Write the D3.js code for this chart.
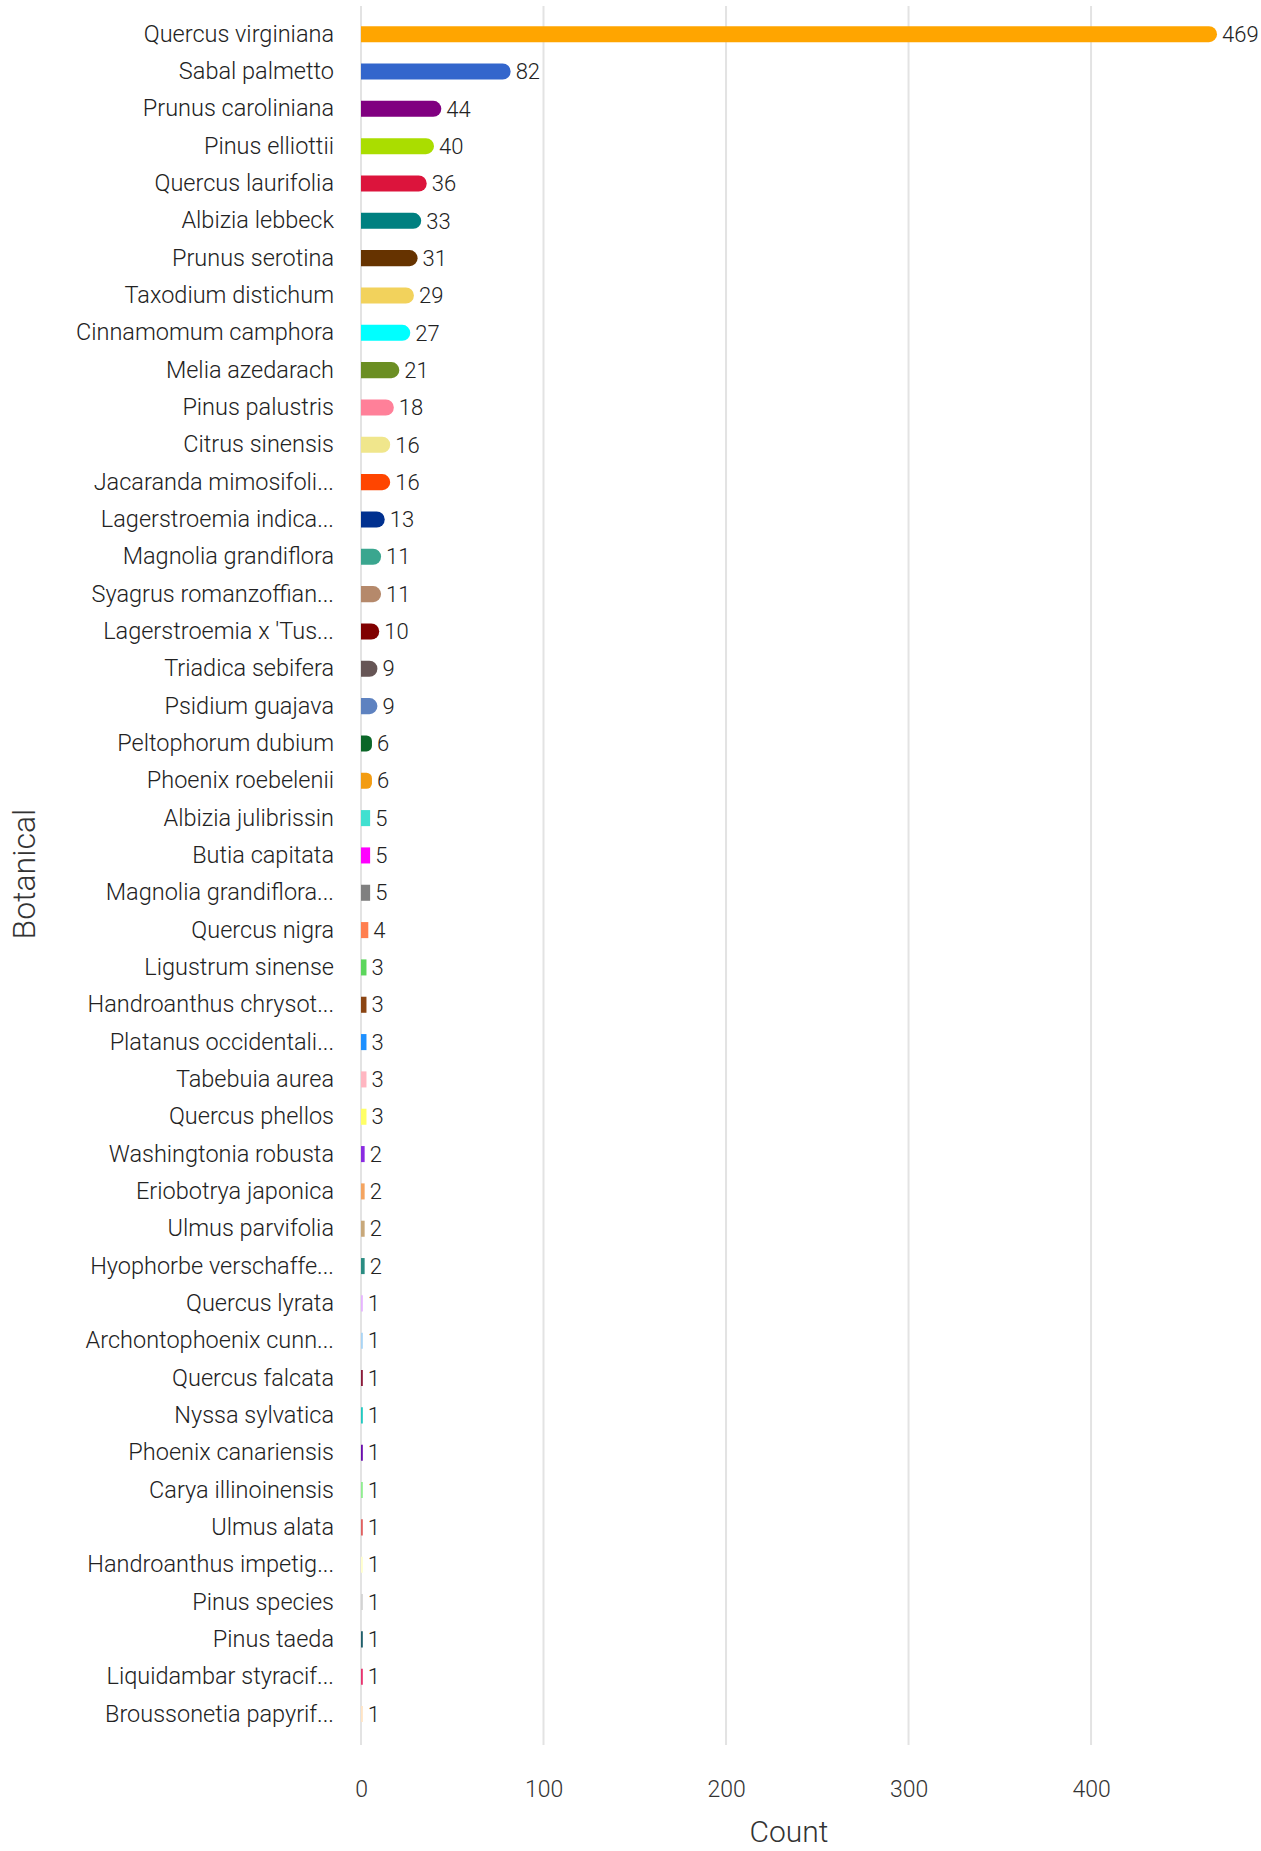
<!DOCTYPE html>
<html>
<head>
<meta charset="utf-8">
<script src="https://cdn.jsdelivr.net/npm/d3@7"></script>
<style>
  html, body { margin: 0; padding: 0; background: #fff; }
  svg text { font-family: Roboto, "Noto Sans", sans-serif; font-weight: 300; }
</style>
</head>
<body>
<svg id="chart" width="1261" height="1851"></svg>
<script>
const categories = [
  "Quercus virginiana","Sabal palmetto","Prunus caroliniana","Pinus elliottii","Quercus laurifolia",
  "Albizia lebbeck","Prunus serotina","Taxodium distichum","Cinnamomum camphora","Melia azedarach",
  "Pinus palustris","Citrus sinensis","Jacaranda mimosifoli...","Lagerstroemia indica...","Magnolia grandiflora",
  "Syagrus romanzoffian...","Lagerstroemia x 'Tus...","Triadica sebifera","Psidium guajava","Peltophorum dubium",
  "Phoenix roebelenii","Albizia julibrissin","Butia capitata","Magnolia grandiflora...","Quercus nigra",
  "Ligustrum sinense","Handroanthus chrysot...","Platanus occidentali...","Tabebuia aurea","Quercus phellos",
  "Washingtonia robusta","Eriobotrya japonica","Ulmus parvifolia","Hyophorbe verschaffe...","Quercus lyrata",
  "Archontophoenix cunn...","Quercus falcata","Nyssa sylvatica","Phoenix canariensis","Carya illinoinensis",
  "Ulmus alata","Handroanthus impetig...","Pinus species","Pinus taeda","Liquidambar styracif...",
  "Broussonetia papyrif..."
];
const counts = [
  469,82,44,40,36,33,31,29,27,21,18,16,16,13,11,11,10,9,9,6,6,5,5,5,4,
  3,3,3,3,3,2,2,2,2,1,1,1,1,1,1,1,1,1,1,1,1
];
const barColors = [
  "#ffa500","#3366cc","#800080","#aadd00","#dc143c","#008080","#663300","#f2d25c","#00ffff","#6b8e23",
  "#ff8099","#f0e68c","#ff4500","#00308f","#3aa68f","#b5896b","#800000","#665555","#5e82c0","#0b6628",
  "#f39c12","#40e0d0","#ff00ff","#808080","#ff7f50","#5cd65c","#8b4513","#1e90ff","#ffb6c1","#ffff66",
  "#8a2be2","#f4a460","#c8a87a","#2a8c82","#e6b3ff","#a8d4f5","#8b1a3a","#20c9c0","#6a0dad","#90ee90",
  "#e06060","#ffffcc","#d3d3d3","#1f5f6b","#e8336f","#ffe4c4"
];
const xTicks = [0, 100, 200, 300, 400];
const xTitle = "Count";
const yTitle = "Botanical";

const data = categories.map((c, i) => ({ name: c, value: counts[i], color: barColors[i] }));

const svg = d3.select("#chart");
const x = d3.scaleLinear().domain([0, 469]).range([361, 1217]);
const y = d3.scaleBand().domain(categories).range([15.5, 1732.7]).paddingInner(0.57).paddingOuter(0.285);

// gridlines
svg.append("g").selectAll("line").data(xTicks).join("line")
  .attr("x1", d => x(d)).attr("x2", d => x(d))
  .attr("y1", 6).attr("y2", 1745)
  .attr("stroke", "#e3e3e3").attr("stroke-width", 2);

// x axis tick labels
const xAxis = d3.axisBottom(x).tickValues(xTicks).tickSize(0).tickPadding(0);
const gx = svg.append("g").attr("transform", "translate(0,1781)").call(xAxis);
gx.select(".domain").remove();
gx.selectAll("text").attr("font-size", 23).attr("fill", "#333").attr("dy", "0.71em")
  .style("font-family", "Roboto, sans-serif").style("font-weight", 300);

// y axis labels
const yAxis = d3.axisLeft(y).tickSize(0).tickPadding(0);
const gy = svg.append("g").attr("transform", "translate(334,0)").call(yAxis);
gy.select(".domain").remove();
gy.selectAll("text").attr("font-size", 23.5).attr("fill", "#222")
  .style("font-family", "Roboto, sans-serif").style("font-weight", 300);

// bars: square left, rounded right
function barPath(d) {
  const x0 = x(0), x1 = x(d.value);
  const w = x1 - x0, h = y.bandwidth(), y0 = y(d.name);
  const r = w >= 10 ? Math.min(h / 2, w / 2) : 0;
  if (r === 0) return `M${x0},${y0}H${x1}V${y0 + h}H${x0}Z`;
  return `M${x0},${y0}H${x1 - r}A${r},${r} 0 0 1 ${x1},${y0 + r}` +
    `V${y0 + h - r}A${r},${r} 0 0 1 ${x1 - r},${y0 + h}H${x0}Z`;
}
svg.append("g").selectAll("path").data(data).join("path")
  .attr("d", barPath).attr("fill", d => d.color);

// value labels
svg.append("g").selectAll("text").data(data).join("text")
  .attr("x", d => x(d.value) + 5)
  .attr("y", d => y(d.name) + y.bandwidth() / 2)
  .attr("dy", "0.35em")
  .attr("font-size", 22).attr("fill", "#222")
  .text(d => d.value);

// axis titles
svg.append("text").attr("x", (x.range()[0] + x.range()[1]) / 2).attr("y", 1842)
  .attr("text-anchor", "middle").attr("font-size", 30).attr("fill", "#333").text(xTitle);
svg.append("text").attr("transform", `translate(35,${(15.5 + 1732.7) / 2}) rotate(-90)`)
  .attr("text-anchor", "middle").attr("font-size", 32).attr("fill", "#333").text(yTitle);
</script>
</body>
</html>
